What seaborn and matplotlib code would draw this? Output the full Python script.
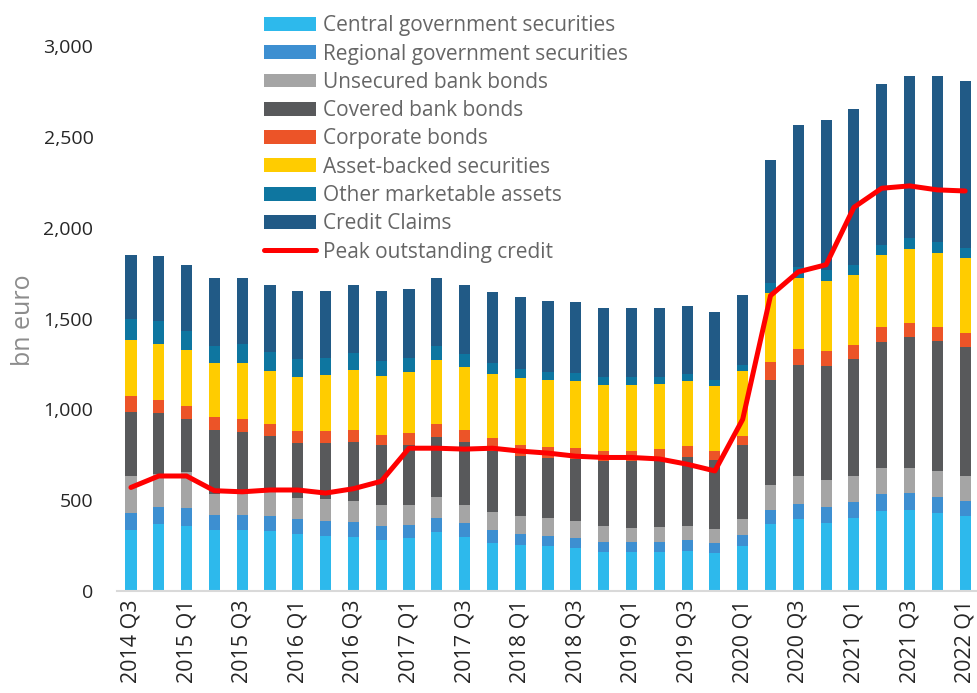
import matplotlib
matplotlib.use("Agg")
import matplotlib.pyplot as plt
from matplotlib.patches import Patch
from matplotlib.lines import Line2D
import seaborn as sns
import numpy as np
import pandas as pd

quarters = [f"{y} Q{q}" for y in range(2014, 2023) for q in range(1, 5)][2:33]

central = [338, 367, 358, 338, 334, 329, 316, 305, 295, 281, 290, 325, 299, 266, 253, 247,
           236, 214, 212, 216, 220, 209, 249, 367, 395, 375, 401, 441, 445, 430, 412]
regional = [94, 98, 98, 83, 87, 83, 81, 81, 85, 77, 74, 76, 74, 70, 63, 58,
            56, 57, 56, 55, 59, 53, 61, 78, 85, 90, 90, 91, 92, 87, 83]
unsecured = [201, 179, 199, 114, 114, 134, 116, 120, 117, 113, 107, 114, 103, 100, 99, 99,
             94, 89, 81, 82, 81, 78, 87, 140, 153, 148, 144, 144, 142, 142, 140]
covered = [353, 336, 290, 349, 340, 307, 301, 308, 323, 330, 334, 334, 342, 332, 327, 327,
           341, 356, 367, 367, 380, 380, 404, 576, 611, 626, 641, 696, 717, 718, 709]
corporate = [85, 72, 72, 72, 72, 66, 65, 65, 66, 57, 63, 70, 68, 74, 61, 59,
             59, 56, 52, 59, 56, 50, 54, 98, 87, 81, 77, 81, 81, 76, 74]
abs_sec = [308, 310, 307, 299, 308, 294, 297, 308, 332, 327, 339, 355, 347, 352, 369, 369,
           368, 363, 367, 360, 358, 356, 354, 384, 393, 389, 386, 395, 404, 408, 415]
other = [116, 122, 105, 96, 107, 105, 103, 98, 91, 83, 74, 72, 70, 61, 50, 48,
         44, 41, 41, 39, 40, 37, 37, 55, 57, 56, 57, 59, 61, 59, 54]
credit = [357, 360, 367, 373, 362, 369, 371, 369, 378, 386, 384, 378, 379, 390, 397, 390,
          395, 380, 384, 382, 377, 373, 386, 672, 783, 827, 857, 884, 895, 914, 921]
peak = [570, 633, 633, 552, 546, 556, 556, 539, 563, 604, 786, 786, 781, 786, 770, 759,
        742, 735, 735, 727, 698, 661, 945, 1626, 1757, 1796, 2112, 2217, 2230, 2208, 2202]

series = [
    ("Central government securities", central, "#2DB9EC"),
    ("Regional government securities", regional, "#3D8FD1"),
    ("Unsecured bank bonds", unsecured, "#A5A5A5"),
    ("Covered bank bonds", covered, "#58595B"),
    ("Corporate bonds", corporate, "#EC5428"),
    ("Asset-backed securities", abs_sec, "#FFCC00"),
    ("Other marketable assets", other, "#0E76A0"),
    ("Credit Claims", credit, "#215A86"),
]

sns.set_style("white")
plt.rcParams["font.family"] = ["Open Sans", "DejaVu Sans"]

fig = plt.figure(figsize=(9.77, 6.93), dpi=100)
ax = fig.add_axes([0.1198, 0.1472, 0.8823, 0.7864])

# stacked bars: draw cumulative totals from the top layer down
cum = np.cumsum(np.array([s[1] for s in series]), axis=0)
for i in range(len(series) - 1, -1, -1):
    df = pd.DataFrame({"quarter": quarters, "value": cum[i]})
    sns.barplot(data=df, x="quarter", y="value", color=series[i][2], width=0.4,
                saturation=1, linewidth=0, ax=ax)

sns.lineplot(x=np.arange(len(quarters)), y=peak, color="#FF0000", linewidth=3.6, ax=ax)

ax.set_xlim(-0.5, len(quarters) - 0.5)
ax.set_ylim(0, 3000)
ax.set_yticks(range(0, 3001, 500))
ax.set_yticklabels([f"{v:,}" for v in range(0, 3001, 500)], fontsize=14)
ax.set_xticks(range(0, len(quarters), 2))
ax.set_xticklabels(quarters[::2], rotation=90, fontsize=15.5)
ax.tick_params(axis="y", length=0, pad=17)
ax.tick_params(axis="x", length=0, pad=6)
ax.set_xlabel("")
ax.set_ylabel("bn euro", fontsize=18, color="#8C8C8C")
ax.yaxis.set_label_coords(-0.094, 0.497)
for side in ["left", "right", "top"]:
    ax.spines[side].set_visible(False)
ax.spines["bottom"].set_color("#D9D9D9")
ax.spines["bottom"].set_linewidth(1.5)

handles = [Patch(facecolor=c, edgecolor="none", label=n) for n, _, c in series]
handles.append(Line2D([0], [0], color="#FF0000", linewidth=3.6, label="Peak outstanding credit"))
leg = fig.legend(handles=handles, loc="upper left", bbox_to_anchor=(0.262, 0.99),
                 frameon=False, fontsize=15, handlelength=2.5, handleheight=0.65,
                 handletextpad=0.3, labelspacing=0.35, borderaxespad=0)
for t in leg.get_texts():
    t.set_color("#666666")

fig.savefig("out.png", dpi=100)
